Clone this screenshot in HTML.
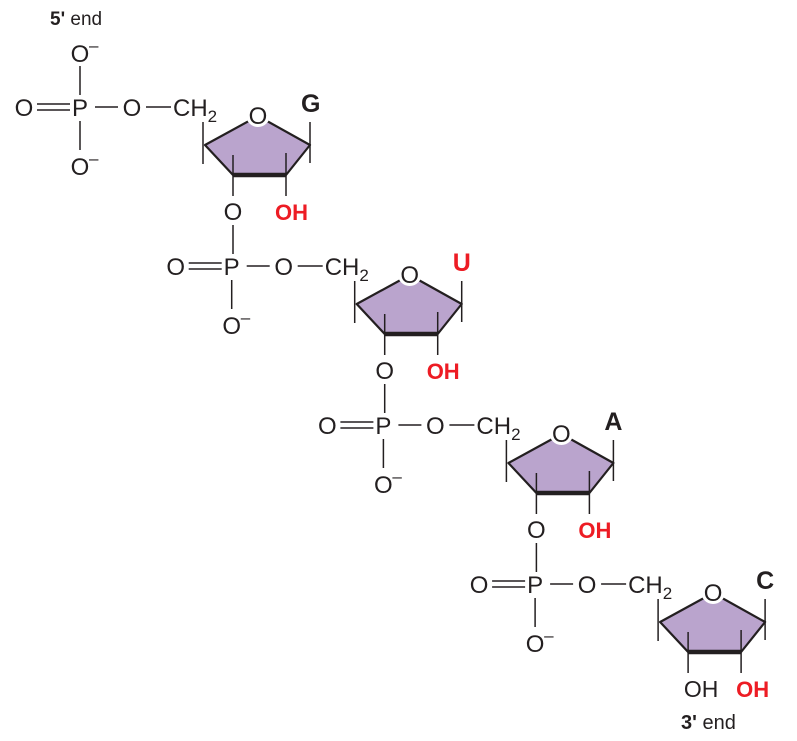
<!DOCTYPE html>
<html><head><meta charset="utf-8"><style>
html,body{margin:0;padding:0;background:#fff;}
svg{display:block;font-family:"Liberation Sans",Arial,sans-serif;}
</style></head><body>
<svg width="797" height="741" viewBox="0 0 797 741" xmlns="http://www.w3.org/2000/svg">
<defs>
<g id="unit">
  <text x="24" y="116" font-size="24" text-anchor="middle" fill="#231f20">O</text>
  <line x1="37" y1="104" x2="70" y2="104" stroke="#231f20" stroke-width="1.5"/>
  <line x1="37" y1="110" x2="70" y2="110" stroke="#231f20" stroke-width="1.5"/>
  <text x="80" y="116" font-size="24" text-anchor="middle" fill="#231f20">P</text>
  <line x1="95" y1="107" x2="118" y2="107" stroke="#231f20" stroke-width="1.5"/>
  <text x="132" y="116" font-size="24" text-anchor="middle" fill="#231f20">O</text>
  <line x1="146" y1="107" x2="171" y2="107" stroke="#231f20" stroke-width="1.5"/>
  <text x="173" y="116" font-size="24" fill="#231f20">CH<tspan font-size="17" dy="6">2</tspan></text>
  <line x1="80" y1="121" x2="80" y2="150" stroke="#231f20" stroke-width="1.5"/>
  <text x="80" y="175" font-size="24" text-anchor="middle" fill="#231f20">O</text>
  <text x="89" y="164" font-size="17" fill="#231f20">–</text>
  <polygon points="205,145 258,116 310,145 286,175 233,175" fill="#baa4cd" stroke="#231f20" stroke-width="2.2" stroke-linejoin="round"/>
  <line x1="233" y1="175" x2="286" y2="175" stroke="#231f20" stroke-width="4.5"/>
  <circle cx="258" cy="115" r="12" fill="#fff"/>
  <text x="258" y="124" font-size="24" text-anchor="middle" fill="#231f20">O</text>
  <line x1="203" y1="122" x2="203" y2="164" stroke="#231f20" stroke-width="1.5"/>
  <line x1="310" y1="122" x2="310" y2="163" stroke="#231f20" stroke-width="1.5"/>
  <line x1="233" y1="155" x2="233" y2="196" stroke="#231f20" stroke-width="1.5"/>
  <line x1="286" y1="153" x2="286" y2="196" stroke="#231f20" stroke-width="1.5"/>
</g>
</defs>

<text x="50" y="25" font-size="19" fill="#231f20"><tspan font-weight="bold">5'</tspan> end</text>
<line x1="80" y1="66" x2="80" y2="95" stroke="#231f20" stroke-width="1.5"/>
<text x="80" y="62" font-size="24" text-anchor="middle" fill="#231f20">O</text>
<text x="89" y="51" font-size="17" fill="#231f20">–</text>

<use href="#unit"/>
<text x="301" y="112" font-size="25" font-weight="bold" fill="#231f20">G</text>
<text x="233" y="220" font-size="24" text-anchor="middle" fill="#231f20">O</text>
<text x="275" y="220" font-size="22" font-weight="bold" fill="#ed1c24">OH</text>
<line x1="233" y1="225" x2="233" y2="254" stroke="#231f20" stroke-width="1.5"/>

<g transform="translate(151.7,159)">
<use href="#unit"/>
<text x="301" y="112" font-size="25" font-weight="bold" fill="#ed1c24">U</text>
<text x="233" y="220" font-size="24" text-anchor="middle" fill="#231f20">O</text>
<text x="275" y="220" font-size="22" font-weight="bold" fill="#ed1c24">OH</text>
<line x1="233" y1="225" x2="233" y2="254" stroke="#231f20" stroke-width="1.5"/>
</g>

<g transform="translate(303.4,318)">
<use href="#unit"/>
<text x="301" y="112" font-size="25" font-weight="bold" fill="#231f20">A</text>
<text x="233" y="220" font-size="24" text-anchor="middle" fill="#231f20">O</text>
<text x="275" y="220" font-size="22" font-weight="bold" fill="#ed1c24">OH</text>
<line x1="233" y1="225" x2="233" y2="254" stroke="#231f20" stroke-width="1.5"/>
</g>

<g transform="translate(455.1,477)">
<use href="#unit"/>
<text x="301" y="112" font-size="25" font-weight="bold" fill="#231f20">C</text>
<text x="246" y="220" font-size="23" text-anchor="middle" fill="#231f20">OH</text>
<text x="281" y="220" font-size="22" font-weight="bold" fill="#ed1c24">OH</text>
</g>

<text x="681" y="729" font-size="20" fill="#231f20"><tspan font-weight="bold">3'</tspan> end</text>
</svg>
</body></html>
